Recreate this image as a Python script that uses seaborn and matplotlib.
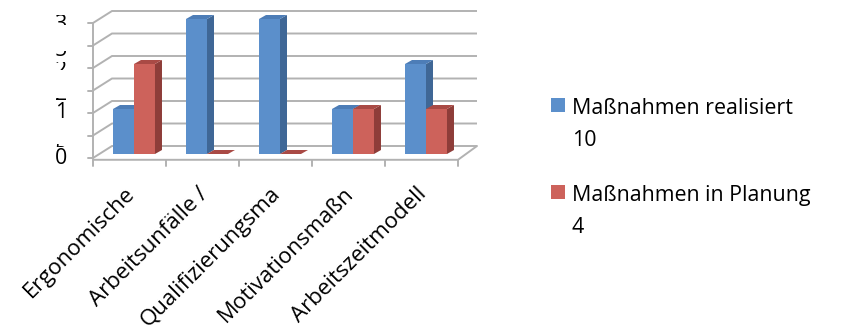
import numpy as np
import pandas as pd
import matplotlib
matplotlib.use("Agg")
import matplotlib.pyplot as plt
from matplotlib.patches import Polygon, Rectangle
from matplotlib.transforms import Bbox
from matplotlib.colors import to_rgb
import seaborn as sns

# --- data -------------------------------------------------------------
kategorien = ["Ergonomische", "Arbeitsunfälle /", "Qualifizierungsma",
              "Motivationsmaßn", "Arbeitszeitmodell"]
realisiert = [1, 3, 3, 1, 2]
in_planung = [2, 0, 0, 1, 1]
serien = ["Maßnahmen realisiert", "Maßnahmen in Planung"]
y_stufen = [0, 0.5, 1, 1.5, 2, 2.5, 3]

# --- styling ----------------------------------------------------------
BLAU, BLAU_SEITE, BLAU_OBEN = "#5B8FCB", "#3F6796", "#4D7DB7"
ROT, ROT_SEITE, ROT_OBEN = "#CD625B", "#8E3D39", "#A94A45"
GITTER = "#B2B2B2"

W, H, DPI = 848, 331, 100
sns.set_theme(style="white")
plt.rcParams["font.family"] = ["Open Sans", "DejaVu Sans"]
FS = 15.4
FS_KAT = 16.0

fig = plt.figure(figsize=(W / DPI, H / DPI), dpi=DPI)
fig.patch.set_facecolor("white")

# front plane geometry (pixels): x=-0.5 -> 93 px, y=0 -> 158 px
X0_PX, UNIT_X = 93, 73.0
Y0_PX, UNIT_Y = 158, 45.0
xlim = (-0.75, 4.95)
ylim = (-0.35, 3.4)
left_px = X0_PX + (xlim[0] + 0.5) * UNIT_X
right_px = X0_PX + (xlim[1] + 0.5) * UNIT_X
bottom_img = Y0_PX - ylim[0] * UNIT_Y
top_img = Y0_PX - ylim[1] * UNIT_Y
ax = fig.add_axes([left_px / W, 1 - bottom_img / H,
                   (right_px - left_px) / W, (bottom_img - top_img) / H])

df = pd.DataFrame({
    "Kategorie": kategorien * 2,
    "Anzahl": realisiert + in_planung,
    "Serie": [serien[0]] * len(kategorien) + [serien[1]] * len(kategorien),
})
sns.barplot(data=df, x="Kategorie", y="Anzahl", hue="Serie",
            palette=[BLAU, ROT], width=0.575, saturation=1, errorbar=None,
            legend=False, linewidth=0, edgecolor="none", ax=ax)

ax.set_xlim(*xlim)
ax.set_ylim(*ylim)
ax.set_axis_off()

# depth of the back wall and of the columns (data units)
DX, DY = 19 / UNIT_X, 12 / UNIT_Y
SX, SY = 4.5 / UNIT_X, 4 / UNIT_Y
BDX, BDY = 7 / UNIT_X, 4 / UNIT_Y

# back wall / side wall grid
for v in y_stufen:
    ax.plot([-0.5, -0.5 + DX, 4.5 + DX], [v, v + DY, v + DY],
            color=GITTER, lw=1.4, zorder=1, clip_on=False,
            solid_joinstyle="miter", solid_capstyle="butt")
    ax.plot([-0.5 - 5 / UNIT_X, -0.5], [v, v], color=GITTER, lw=1.4,
            zorder=1, clip_on=False)
ax.plot([-0.5, -0.5], [0, 3], color=GITTER, lw=1.4, zorder=1, clip_on=False)
ax.plot([-0.5, 4.5, 4.5 + DX], [-0.04, -0.04, DY], color=GITTER, lw=1.4,
        zorder=1, clip_on=False, solid_joinstyle="miter")
for b in np.arange(-0.5, len(kategorien), 1.0):
    ax.plot([b, b], [-0.04, -0.17], color=GITTER, lw=1.4, zorder=1,
            clip_on=False)

# turn the flat columns into pseudo-3D blocks
for p in list(ax.patches):
    blau = np.allclose(p.get_facecolor()[:3], to_rgb(BLAU), atol=0.02)
    seite, oben = (BLAU_SEITE, BLAU_OBEN) if blau else (ROT_SEITE, ROT_OBEN)
    z = 3 if blau else 4
    p.set_x(p.get_x() + SX)
    p.set_y(p.get_y() + SY)
    p.set_zorder(z)
    x, y, w, h = p.get_x(), p.get_y(), p.get_width(), p.get_height()
    ax.add_patch(Polygon([(x + w, y), (x + w + BDX, y + BDY),
                          (x + w + BDX, y + h + BDY), (x + w, y + h)],
                         closed=True, fc=seite, ec="none", zorder=z,
                         clip_on=False))
    ax.add_patch(Polygon([(x, y + h), (x + BDX, y + h + BDY),
                          (x + w + BDX, y + h + BDY), (x + w, y + h)],
                         closed=True, fc=oben, ec="none", zorder=z,
                         clip_on=False))

# category labels
for i, k in enumerate(kategorien):
    ax.text(i + 0.03, -0.73, k, rotation=45, ha="right", va="center",
            rotation_mode="anchor", fontsize=FS_KAT, color="black")


def px_text(x, y, s, clip=None, **kw):
    t = fig.text(x / W, 1 - y / H, s, **kw)
    if clip is not None:
        y0, y1 = clip
        t.set_clip_box(Bbox([[0, H - y1], [W, H - y0]]))
        t.set_clip_on(True)
    return t


# value axis labels (partly cut off)
y_labels = [("0", 158, None), ("5", 151, (143.5, 146.5)), ("1", 113, None),
            ("2", 95, (98, 104)), ("2", 70, (62, 70)), ("5", 51, (51, 58)),
            ("3", 24, (15, 25))]
for s, yy, clip in y_labels:
    px_text(67, yy, s, clip=clip, ha="right", va="center", fontsize=FS,
            color="black")

# legend
for (farbe, name, summe, y_box, y_txt) in [
        (BLAU, serien[0], sum(realisiert), 98, 114),
        (ROT, serien[1], sum(in_planung), 185, 201)]:
    fig.add_artist(Rectangle((551 / W, 1 - (y_box + 14) / H), 14 / W, 14 / H,
                             transform=fig.transFigure, fc=farbe, ec="none"))
    px_text(572, y_txt, name, ha="left", va="baseline", fontsize=FS,
            color="black")
    px_text(572, y_txt + 32, str(summe), ha="left", va="baseline",
            fontsize=FS, color="black")

fig.savefig("out.png", dpi=DPI)
